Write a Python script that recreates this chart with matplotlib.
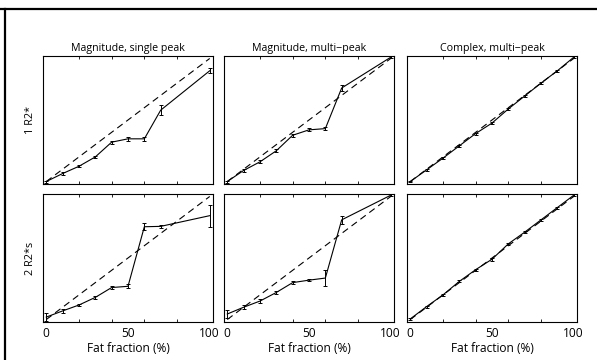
import numpy as np
import matplotlib.pyplot as plt
from matplotlib.lines import Line2D

plt.rcParams['font.family'] = ['Open Sans', 'DejaVu Sans']

# fat fractions (%)
ff_mag = [0, 10, 20, 30, 40, 50, 60, 70, 100]
ff_cpx = [0, 10, 20, 30, 40, 50, 60, 70, 80, 90, 100]

# row 1: R2*
single_r2 = [0, 6.5, 12.4, 20, 32, 34.7, 34.7, 58, 90]
single_r2_err = [0.8, 1, 0.8, 1, 1.2, 1.5, 1.5, 4, 2]
multi_r2 = [0, 9, 16, 25, 37.6, 42, 43, 76, 101]
multi_r2_err = [0.8, 1, 1.2, 1.3, 1.3, 1.3, 1.3, 2.5, 1]
complex_r2 = [0, 9.5, 19, 29, 39, 47.5, 59, 69.5, 80, 90, 101]
complex_r2_err = [0.6, 0.8, 0.8, 0.8, 0.8, 1, 0.8, 0.8, 0.8, 0.8, 0.6]

# row 2: R2*s
single_r2s = [2, 7, 11.8, 18, 26, 27, 75.4, 75.7, 84.4]
single_r2s_err = [3, 1.5, 1, 1.2, 1.5, 1.5, 3, 1.5, 9]
multi_r2s = [4.5, 10, 15, 22, 30, 32, 33.7, 81, 101]
multi_r2s_err = [3, 1.5, 1.5, 1.5, 1, 1, 6.5, 3, 1]
complex_r2s = [0.5, 10.5, 20, 31, 40.5, 49, 61.5, 71, 81, 91, 101]
complex_r2s_err = [0.6, 0.8, 0.8, 0.8, 0.8, 1.2, 0.8, 1, 0.8, 0.8, 0.6]

titles = ['Magnitude, single peak', 'Magnitude, multi\u2212peak', 'Complex, multi\u2212peak']
row_labels = ['1 R2*', '2 R2*s']

panels = [
    [(ff_mag, single_r2, single_r2_err), (ff_mag, multi_r2, multi_r2_err), (ff_cpx, complex_r2, complex_r2_err)],
    [(ff_mag, single_r2s, single_r2s_err), (ff_mag, multi_r2s, multi_r2s_err), (ff_cpx, complex_r2s, complex_r2s_err)],
]

W, H = 597, 360
fig = plt.figure(figsize=(W / 100, H / 100), dpi=100)

lefts = [43, 224, 407]
tops = [56, 194]
pw, ph = 170, 128

for r in range(2):
    for c in range(3):
        ax = fig.add_axes([lefts[c] / W, 1 - (tops[r] + ph) / H, pw / W, ph / H])
        x, y, e = panels[r][c]
        ax.plot([0, 100], [0, 100], color='black', lw=0.8, dashes=(6, 4))
        ax.errorbar(x, y, yerr=e, color='black', lw=0.8, elinewidth=0.7,
                    capsize=1.5, capthick=0.7)
        ax.set_xlim(-2, 102)
        ax.set_ylim(-2, 102)
        ax.set_yticks([])
        ax.set_xticks([0, 50, 100])
        ax.set_xticks(np.arange(0, 101, 20), minor=True)
        ax.tick_params(which='major', length=0, labelsize=8.6, pad=3.5)
        ax.tick_params(which='minor', direction='in', length=2, width=0.6,
                       top=True, bottom=True)
        for s in ax.spines.values():
            s.set_linewidth(0.8)
        if r == 0:
            ax.set_title(titles[c], fontsize=7.7, pad=3.5)
            ax.set_xticklabels([])
        else:
            ax.set_xlabel('Fat fraction (%)', fontsize=8.6, labelpad=1.5)
        if c == 0:
            ax.set_ylabel(row_labels[r], fontsize=7.8, labelpad=5)

# outer frame lines
fig.add_artist(Line2D([0, 1], [1 - 8.5 / H, 1 - 8.5 / H], color='black', lw=1.6))
fig.add_artist(Line2D([4.5 / W, 4.5 / W], [0, 1 - 8.5 / H], color='black', lw=1.6))

fig.savefig('out.png', dpi=100)
